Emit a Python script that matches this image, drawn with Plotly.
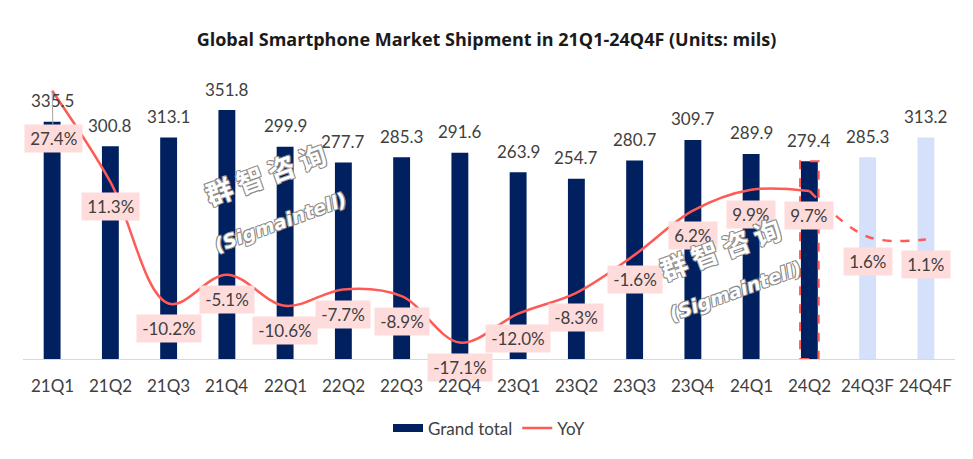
import plotly.graph_objects as go

categories = ["21Q1", "21Q2", "21Q3", "21Q4", "22Q1", "22Q2", "22Q3", "22Q4",
              "23Q1", "23Q2", "23Q3", "23Q4", "24Q1", "24Q2", "24Q3F", "24Q4F"]
shipments = [335.5, 300.8, 313.1, 351.8, 299.9, 277.7, 285.3, 291.6,
             263.9, 254.7, 280.7, 309.7, 289.9, 279.4, 285.3, 313.2]
yoy = [27.4, 11.3, -10.2, -5.1, -10.6, -7.7, -8.9, -17.1,
       -12.0, -8.3, -1.6, 6.2, 9.9, 9.7, 1.6, 1.1]
forecast = [False] * 14 + [True, True]
highlight_idx = 13  # 24Q2

NAVY = "#002060"
LIGHT = "#D5E1FA"
RED = "#FF5A55"
PINK = "#FFDCDC"
TXT = "#404040"
FONT = "Lato"

bar_colors = [LIGHT if f else NAVY for f in forecast]

fig = go.Figure()
fig.add_trace(go.Bar(
    x=categories, y=shipments, name="Grand total",
    marker=dict(color=bar_colors, line=dict(width=0)),
    width=0.29, yaxis="y", showlegend=False,
))
# legend swatch for bars (wide rectangle like the reference)
fig.add_trace(go.Scatter(
    x=[None], y=[None], name="Grand total", mode="lines",
    line=dict(color=NAVY, width=8), yaxis="y", showlegend=True,
))

n_act = sum(1 for f in forecast if not f)
fig.add_trace(go.Scatter(
    x=categories[:n_act], y=yoy[:n_act], name="YoY", mode="lines",
    line=dict(color=RED, width=2.5, shape="spline", smoothing=1.0),
    yaxis="y2",
))
fig.add_trace(go.Scatter(
    x=categories[n_act - 1:], y=yoy[n_act - 1:], name="YoY forecast", mode="lines",
    line=dict(color=RED, width=2.5, shape="spline", smoothing=1.0, dash="dash"),
    yaxis="y2", showlegend=False,
))

annotations = []
for c, v in zip(categories, shipments):
    annotations.append(dict(
        x=c, y=v, xref="x", yref="y", text=f"{v:.1f}", showarrow=False,
        yanchor="middle", yshift=21, font=dict(family=FONT, size=17, color=TXT),
    ))
for i, (c, v) in enumerate(zip(categories, yoy)):
    txt = "\u2009" + f"{v:.1f}%" + "\u2009"
    a = dict(
        x=c, y=v, xref="x", yref="y2", text=txt,
        bgcolor=PINK, borderpad=3,
        font=dict(family=FONT, size=17, color=TXT),
    )
    if i == 0:
        a.update(showarrow=True, arrowhead=0, arrowwidth=1, arrowcolor="#A6A6A6",
                 ax=1, ay=48, standoff=0)
    else:
        a.update(showarrow=False, yanchor="middle", yshift=-25)
    annotations.append(a)

# category labels drawn on top of the YoY label boxes
for c in categories:
    annotations.append(dict(
        x=c, y=0, xref="x", yref="paper", text=c, showarrow=False,
        yanchor="middle", yshift=-26, font=dict(family=FONT, size=17, color=TXT),
    ))

shadow = "-1px -1px 0 #8c8c8c, 1px -1px 0 #8c8c8c, -1px 1px 0 #8c8c8c, 1px 1px 0 #8c8c8c"
wm_font_cn = dict(family="Noto Sans CJK SC", size=27, color="white", weight=700, shadow=shadow)
wm_font_en = dict(family="DejaVu Sans", size=19, color="white", weight=700, style="italic",
                  shadow=shadow)
for (xc, yc, xe, ye) in [(0.260, 0.657, 0.276, 0.484), (0.748, 0.390, 0.764, 0.240)]:
    annotations.append(dict(x=xc, y=yc, xref="paper", yref="paper", text="群 智 咨 询",
                            xanchor="center", yanchor="middle",
                            showarrow=False, textangle=-20, font=wm_font_cn))
    annotations.append(dict(x=xe, y=ye, xref="paper", yref="paper", text="(Sigmaintell)",
                            xanchor="center", yanchor="middle",
                            showarrow=False, textangle=-20, font=wm_font_en))

hw = 0.16
shapes = [dict(
    type="rect", xref="x", yref="y",
    x0=highlight_idx - hw, x1=highlight_idx + hw, y0=0, y1=shipments[highlight_idx],
    line=dict(color=RED, width=2, dash="dash"), fillcolor="rgba(0,0,0,0)", layer="above",
)]

fig.update_layout(
    width=973, height=459,
    margin=dict(l=23, r=18, t=76, b=100),
    paper_bgcolor="white", plot_bgcolor="white",
    title=dict(text="<b>Global Smartphone Market Shipment in 21Q1-24Q4F (Units: mils)</b>",
               x=0.5, xanchor="center", y=1 - 40 / 459, yanchor="middle",
               font=dict(family="Open Sans", size=18, color="#1a1a1a")),
    xaxis=dict(type="category", categoryorder="array", categoryarray=categories,
               showgrid=False, showline=True, linecolor="#D9D9D9", linewidth=1,
               ticks="", showticklabels=False, zeroline=False),
    yaxis=dict(range=[0, 400], visible=False, showgrid=False),
    yaxis2=dict(range=[-20, 30], overlaying="y", visible=False, showgrid=False),
    legend=dict(orientation="h", x=0.5, xanchor="center", y=-0.245, yanchor="middle",
                font=dict(family=FONT, size=17, color=TXT)),
    annotations=annotations, shapes=shapes,
    showlegend=True,
)

fig.write_html("out.html")
